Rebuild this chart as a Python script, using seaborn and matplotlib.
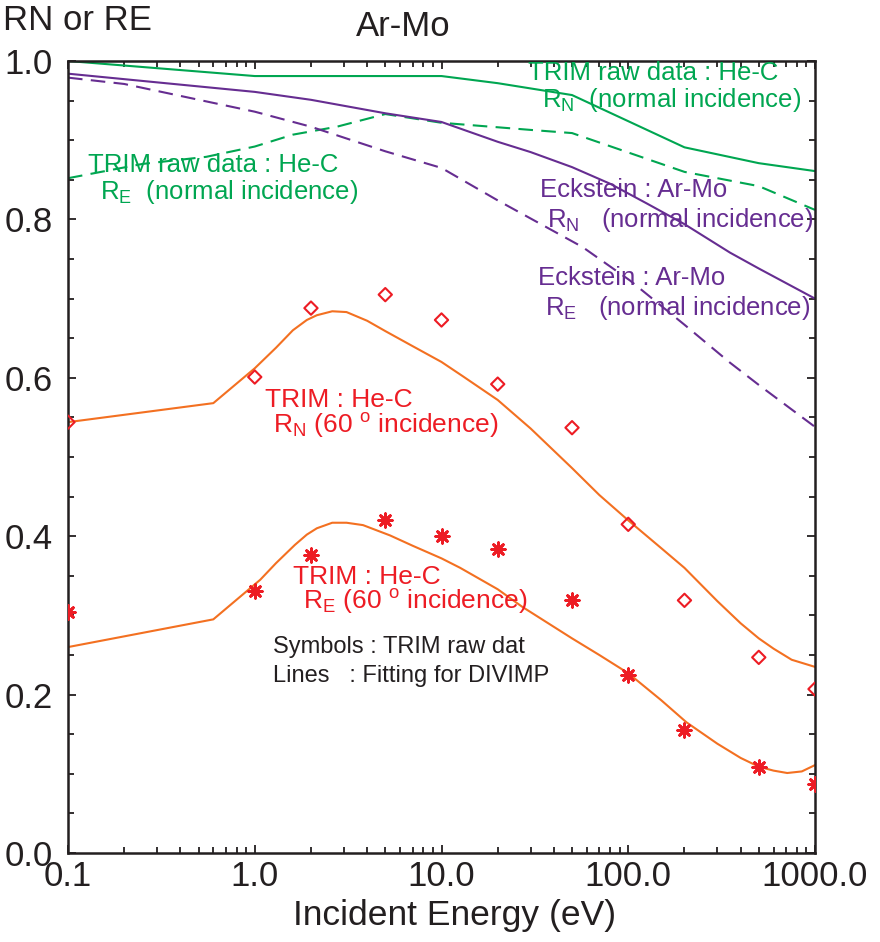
import numpy as np
import pandas as pd
import matplotlib
matplotlib.use("Agg")
import matplotlib.pyplot as plt
import seaborn as sns

# ---------------- data ----------------
# TRIM raw data, 60 deg incidence (symbols)
trim_x = [0.1, 1, 2, 5, 10, 20, 50, 100, 200, 500, 1000]
trim_rn60 = [0.544, 0.601, 0.688, 0.705, 0.673, 0.592, 0.537, 0.415, 0.319, 0.247, 0.207]
trim_re60 = [0.304, 0.331, 0.376, 0.420, 0.400, 0.384, 0.319, 0.225, 0.155, 0.109, 0.087]

# DIVIMP fitting lines, 60 deg incidence
fit_rn_x = [0.1, 0.6, 1.0, 1.3, 1.6, 1.9, 2.15, 2.6, 3.1, 4.0, 5, 7, 10, 13, 20, 30, 50, 70, 100,
            150, 200, 300, 400, 500, 600, 750, 1000]
fit_rn_y = [0.544, 0.568, 0.612, 0.638, 0.660, 0.673, 0.679, 0.684, 0.683, 0.672, 0.659, 0.640, 0.620,
            0.602, 0.572, 0.536, 0.486, 0.452, 0.420, 0.385, 0.360, 0.318, 0.290, 0.271, 0.258, 0.244, 0.235]
fit_re_x = [0.1, 0.6, 1.07, 1.3, 1.64, 1.9, 2.15, 2.6, 3.1, 3.8, 5.3, 7, 10, 12.6, 20, 27, 50, 70, 100,
            150, 205, 300, 400, 500, 600, 710, 850, 1000]
fit_re_y = [0.260, 0.295, 0.345, 0.366, 0.389, 0.402, 0.410, 0.417, 0.417, 0.414, 0.401, 0.388, 0.372,
            0.360, 0.333, 0.311, 0.271, 0.250, 0.227, 0.193, 0.165, 0.138, 0.120, 0.109, 0.104, 0.101,
            0.103, 0.111]

# TRIM raw data He-C, normal incidence
hec_rn_x = [0.1, 1, 10, 20, 50, 200, 500, 1000]
hec_rn_y = [1.000, 0.981, 0.981, 0.972, 0.957, 0.891, 0.871, 0.861]
hec_re_x = [0.1, 0.25, 0.55, 1, 1.6, 2.75, 5, 10, 30, 50, 200, 500, 1000]
hec_re_y = [0.852, 0.870, 0.879, 0.892, 0.907, 0.917, 0.933, 0.922, 0.913, 0.909, 0.860, 0.842, 0.812]

# Eckstein Ar-Mo, normal incidence
eck_rn_x = [0.1, 1, 2, 5, 10, 20, 30, 50, 80, 126, 200, 351, 500, 1000]
eck_rn_y = [0.984, 0.961, 0.951, 0.934, 0.923, 0.898, 0.885, 0.866, 0.845, 0.820, 0.794, 0.758, 0.738, 0.700]
eck_re_x = [0.1, 0.2, 1, 2, 5, 10, 20, 57, 102, 200, 351, 500, 1000]
eck_re_y = [0.979, 0.971, 0.936, 0.917, 0.886, 0.865, 0.824, 0.765, 0.723, 0.667, 0.619, 0.591, 0.538]

x_ticks = [0.1, 1, 10, 100, 1000]
x_ticklabels = ["0.1", "1.0", "10.0", "100.0", "1000.0"]
y_ticks = [0.0, 0.2, 0.4, 0.6, 0.8, 1.0]
y_ticklabels = ["0.0", "0.2", "0.4", "0.6", "0.8", "1.0"]

# ---------------- style ----------------
sns.set_style("ticks")
plt.rcParams["font.family"] = ["Liberation Sans", "DejaVu Sans"]
plt.rcParams["mathtext.fontset"] = "custom"
plt.rcParams["mathtext.rm"] = "Liberation Sans"
plt.rcParams["mathtext.it"] = "Liberation Sans:italic"
plt.rcParams["mathtext.bf"] = "Liberation Sans:bold"

GREEN = "#00a651"
PURPLE = "#662d91"
RED = "#ed1c24"
ORANGE = "#f37021"
BLACK = "#231f20"

W, H = 880, 942
fig = plt.figure(figsize=(W / 100, H / 100), dpi=100)
L, R, T, B = 68, 815, 61, 853
ax = fig.add_axes([L / W, 1 - B / H, (R - L) / W, (B - T) / H])

DASH = (0, (7, 4))
LW = 1.5

def line(xs, ys, color, ls="-"):
    df = pd.DataFrame({"x": xs, "y": ys})
    sns.lineplot(data=df, x="x", y="y", ax=ax, color=color, lw=LW, ls=ls,
                 sort=False, estimator=None)

line(hec_rn_x, hec_rn_y, GREEN)
line(hec_re_x, hec_re_y, GREEN, DASH)
line(eck_rn_x, eck_rn_y, PURPLE)
line(eck_re_x, eck_re_y, PURPLE, DASH)
line(fit_rn_x, fit_rn_y, ORANGE)
line(fit_re_x, fit_re_y, ORANGE)

pts = pd.DataFrame({"x": trim_x, "rn": trim_rn60, "re": trim_re60})
sns.scatterplot(data=pts, x="x", y="rn", ax=ax, marker="D", s=46,
                facecolor="none", edgecolor=RED, linewidth=1.5, zorder=5)
sns.scatterplot(data=pts, x="x", y="re", ax=ax, marker=(8, 2, 0), s=95,
                color=RED, edgecolor=RED, linewidth=2.0, zorder=5)

ax.set_xscale("log")
ax.set_xlim(0.1, 1000)
ax.set_ylim(0, 1.0)
ax.set_xticks(x_ticks)
ax.set_xticklabels(x_ticklabels)
ax.set_yticks(y_ticks)
ax.set_yticklabels(y_ticklabels)
ax.xaxis.set_minor_locator(matplotlib.ticker.LogLocator(base=10, subs=np.arange(2, 10)))
ax.xaxis.set_minor_formatter(matplotlib.ticker.NullFormatter())
ax.yaxis.set_minor_locator(matplotlib.ticker.MultipleLocator(0.05))
ax.tick_params(which="both", direction="in", top=True, right=True, color=BLACK, width=1.3)
ax.tick_params(which="major", length=6, labelsize=25, labelcolor=BLACK)
ax.tick_params(which="minor", length=4)
ax.tick_params(axis="y", pad=11)
ax.tick_params(axis="x", pad=5)
for s in ax.spines.values():
    s.set_visible(True)
    s.set_linewidth(1.8)
    s.set_color(BLACK)
ax.set_xlabel("")
ax.set_ylabel("")

def ftext(px, py, s, color, size, ha="left"):
    fig.text(px / W, 1 - py / H, s, color=color, fontsize=size, ha=ha, va="center")

ftext(455, 915, "Incident Energy (eV)", BLACK, 25.5, ha="center")
ftext(3, 21, "RN or RE", BLACK, 25)
ftext(403, 27, "Ar-Mo", BLACK, 25, ha="center")

ftext(528, 73, "TRIM raw data : He-C", GREEN, 18.5)
ftext(542, 100, r"R$_{\mathrm{N}}$  (normal incidence)", GREEN, 18.5)
ftext(88, 165, "TRIM raw data : He-C", GREEN, 18.5)
ftext(100, 192, r"R$_{\mathrm{E}}$  (normal incidence)", GREEN, 18.5)

ftext(540, 190, "Eckstein : Ar-Mo", PURPLE, 18.5)
ftext(547, 220, r"R$_{\mathrm{N}}$   (normal incidence)", PURPLE, 18.5)
ftext(538, 278, "Eckstein : Ar-Mo", PURPLE, 18.5)
ftext(545, 308, r"R$_{\mathrm{E}}$   (normal incidence)", PURPLE, 18.5)

ftext(265, 400, "TRIM : He-C", RED, 19)
ftext(273, 426, r"R$_{\mathrm{N}}$ (60 $^{\mathrm{o}}$ incidence)", RED, 19)
ftext(293, 577, "TRIM : He-C", RED, 19)
ftext(303, 601, r"R$_{\mathrm{E}}$ (60 $^{\mathrm{o}}$ incidence)", RED, 19)

ftext(273, 647, "Symbols : TRIM raw dat", BLACK, 17)
ftext(273, 676, "Lines   : Fitting for DIVIMP", BLACK, 17)

fig.savefig("out.png", dpi=100)
